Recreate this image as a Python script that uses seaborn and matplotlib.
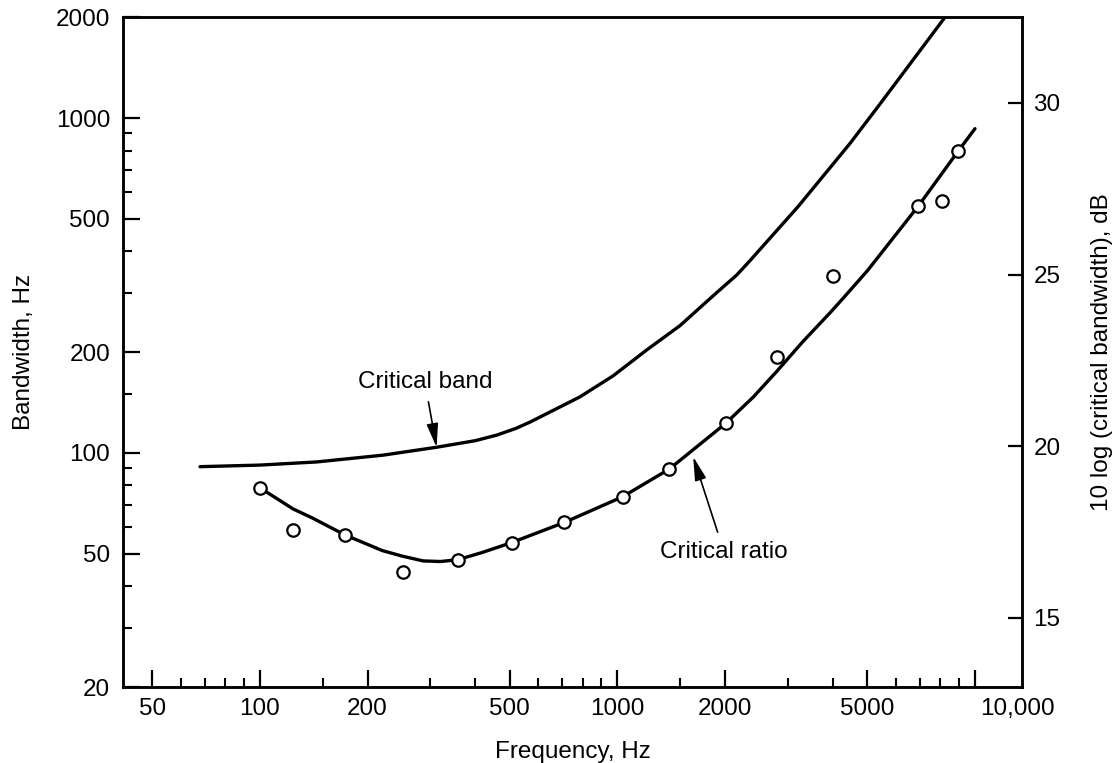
import matplotlib
matplotlib.use("Agg")
import matplotlib.pyplot as plt
import matplotlib.ticker as mticker
from matplotlib.transforms import ScaledTranslation
import seaborn as sns

# ---- data ----
band_freq = [68, 100, 144, 221, 312, 400, 459, 520, 569, 785, 973, 1207, 1496, 1854,
             2156, 2347, 3200, 4467, 5400, 6577, 8240]
band_bw = [91, 92, 94, 98.5, 104, 108.8, 113, 118.4, 123.6, 147, 170, 203, 240, 295,
           340, 375, 544, 839, 1095, 1450, 2000]

ratio_curve_freq = [100, 124, 140, 173, 220, 250, 286, 320, 358, 420, 506, 710, 1034,
                    1396, 2007, 2400, 2787, 3300, 3930, 4281, 5000, 6950, 8982, 10000]
ratio_curve_bw = [78.7, 68, 64, 56.9, 51.1, 49.2, 47.6, 47.4, 48, 50.5, 54, 62, 74,
                  89.5, 122.5, 147, 175, 215, 262, 290, 350, 547, 798, 930]

ratio_pts_freq = [100, 124, 173, 251, 358, 506, 710, 1034, 1396, 2007, 2787, 4014,
                  6950, 8073, 8982]
ratio_pts_bw = [78.7, 58.9, 56.9, 44.2, 47.9, 53.9, 62.0, 74.0, 89.5, 122.5, 193, 337,
                547, 566, 798]

x_major = [50, 100, 200, 500, 1000, 2000, 5000, 10000]
x_major_labels = ["50", "100", "200", "500", "1000", "2000", "5000", "10,000"]
x_minor = [60, 70, 80, 90, 150, 300, 400, 600, 700, 800, 900, 1500, 3000, 4000,
           6000, 7000, 8000, 9000]
y_major = [20, 50, 100, 200, 500, 1000, 2000]
y_minor = [30, 40, 60, 70, 80, 90, 150, 300, 400, 600, 700, 800, 900]
db_ticks = [15, 20, 25, 30]

sns.set_theme(style="white")
plt.rcParams['font.family'] = ['Liberation Sans', 'DejaVu Sans']

FS = 17.5
fig = plt.figure(figsize=(11.12, 7.63), dpi=100)
ax = fig.add_axes([0.1109, 0.0996, 0.8084, 0.8777])
ax.set_xscale('log')
ax.set_yscale('log')

sns.lineplot(x=band_freq, y=band_bw, ax=ax, color='black', linewidth=2.4,
             estimator=None, sort=False)
sns.lineplot(x=ratio_curve_freq, y=ratio_curve_bw, ax=ax, color='black', linewidth=2.4,
             estimator=None, sort=False)
sns.scatterplot(x=ratio_pts_freq, y=ratio_pts_bw, ax=ax, marker='o', s=80,
                facecolor='white', edgecolor='black', linewidth=1.6, zorder=5)

ax.set_xlim(41.5, 13560)
ax.set_ylim(20, 2000)

ax.xaxis.set_major_locator(mticker.FixedLocator(x_major))
ax.xaxis.set_major_formatter(mticker.FixedFormatter(x_major_labels))
ax.xaxis.set_minor_locator(mticker.FixedLocator(x_minor))
ax.xaxis.set_minor_formatter(mticker.NullFormatter())
ax.yaxis.set_major_locator(mticker.FixedLocator(y_major))
ax.yaxis.set_major_formatter(mticker.FixedFormatter([str(v) for v in y_major]))
ax.yaxis.set_minor_locator(mticker.FixedLocator(y_minor))
ax.yaxis.set_minor_formatter(mticker.NullFormatter())

ax.tick_params(which='both', direction='in', top=False, right=False,
               bottom=True, left=True, colors='black', labelsize=FS)
ax.tick_params(which='major', length=12.5, width=1.6, pad=8)
ax.tick_params(which='minor', length=6.5, width=1.5)
ax.tick_params(axis='y', which='major', pad=9.5)

for s in ax.spines.values():
    s.set_color('black')
    s.set_linewidth(1.8)

ax.set_xlabel('Frequency, Hz', fontsize=FS, labelpad=15, color='black')
ax.set_ylabel('Bandwidth, Hz', fontsize=FS, labelpad=15, color='black')

ax2 = ax.twinx()
ax2.set_ylim(12.99, 32.49)
ax2.yaxis.set_major_locator(mticker.FixedLocator(db_ticks))
ax2.yaxis.set_minor_locator(mticker.NullLocator())
ax2.tick_params(axis='y', direction='in', length=10, width=1.6, pad=8,
                labelsize=FS, colors='black')
ax2.set_ylabel('10 log (critical bandwidth), dB', fontsize=FS, labelpad=22,
               color='black')
for s in ax2.spines.values():
    s.set_color('black')
    s.set_linewidth(1.8)
ax2.grid(False)
ax.grid(False)

ax.annotate('Critical band', xy=(312, 104), xytext=(289.4, 162.8),
            ha='center', va='center', fontsize=FS, color='black',
            arrowprops=dict(arrowstyle='-|>,head_length=0.9,head_width=0.22',
                            color='black', lw=1.2, mutation_scale=16,
                            shrinkA=4, shrinkB=0))
ax.annotate('Critical ratio', xy=(1629, 97.4), xytext=(1986, 50.7),
            ha='center', va='center', fontsize=FS, color='black',
            arrowprops=dict(arrowstyle='-|>,head_length=0.9,head_width=0.22',
                            color='black', lw=1.2, mutation_scale=16,
                            shrinkA=4, shrinkB=0))

# shift the "10,000" label like the reference
fig.canvas.draw()
lbl = ax.xaxis.get_majorticklabels()[-1]
lbl.set_transform(lbl.get_transform() + ScaledTranslation(0.42, 0, fig.dpi_scale_trans))

fig.savefig('out.png', dpi=100)
